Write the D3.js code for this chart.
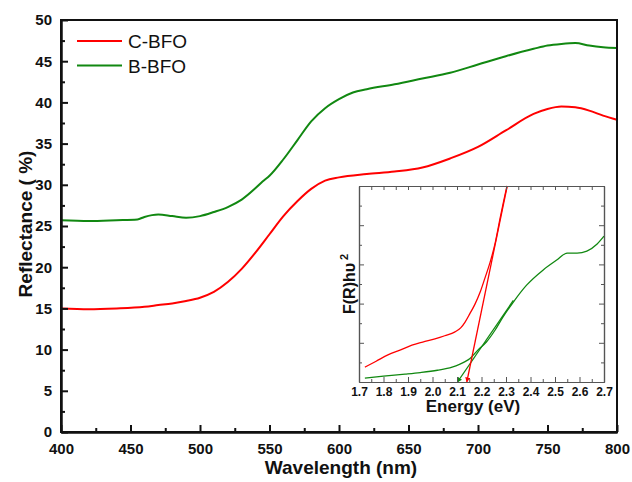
<!DOCTYPE html>
<html>
<head>
<meta charset="utf-8">
<script src="https://cdn.jsdelivr.net/npm/d3@7"></script>
<style>
  body { margin: 0; background: #fff; }
  svg { font-family: "Liberation Sans", Arial, sans-serif; }
  .tick text { font-weight: bold; fill: #111; }
  .label { font-weight: bold; fill: #111; }
</style>
</head>
<body>
<svg width="632" height="482"></svg>
<script>
// **** data ****
var wlC = [400, 420, 440, 460, 470, 480, 490, 500, 510, 520, 530, 540, 550, 560, 570, 580,
  590, 600, 620, 640, 660, 680, 700, 720, 740, 750, 760, 770, 780, 790, 800];
var reflC = [15.0, 14.9, 15.0, 15.2, 15.4, 15.6, 15.9, 16.3, 17.0, 18.2, 19.8, 21.8, 24.0, 26.2, 28.0, 29.5,
  30.5, 30.9, 31.3, 31.6, 32.1, 33.2, 34.6, 36.6, 38.6, 39.2, 39.5, 39.4, 39.0, 38.4, 37.9];

var wlB = [400, 420, 440, 455, 460, 470, 480, 490, 500, 510, 520, 530, 540, 545, 550, 560, 570, 580,
  590, 600, 610, 620, 640, 660, 680, 700, 720, 740, 750, 760, 770, 780, 790, 800];
var reflB = [25.7, 25.6, 25.7, 25.8, 26.1, 26.4, 26.2, 26.0, 26.2, 26.7, 27.3, 28.2, 29.6, 30.4, 31.1, 33.1, 35.4, 37.7,
  39.3, 40.4, 41.2, 41.6, 42.2, 42.9, 43.6, 44.6, 45.6, 46.5, 46.9, 47.1, 47.2, 46.9, 46.7, 46.6];

var series = ['C-BFO', 'B-BFO'];
var seriesColors = ['#ff0000', '#118811'];

var xTicks = [400, 450, 500, 550, 600, 650, 700, 750, 800];
var xMinor = [425, 475, 525, 575, 625, 675, 725, 775];
var yTicks = [0, 5, 10, 15, 20, 25, 30, 35, 40, 45, 50];
var yMinor = [2.5, 7.5, 12.5, 17.5, 22.5, 27.5, 32.5, 37.5, 42.5, 47.5];

// inset: F(R)hv^2 vs energy (arbitrary units)
var eC = [1.724, 1.77, 1.818, 1.87, 1.916, 1.96, 2.01, 2.05, 2.092, 2.115, 2.133, 2.153, 2.173, 2.195,
  2.214, 2.235, 2.256, 2.276, 2.29, 2.304];
var fC = [0.38, 0.53, 0.69, 0.82, 0.94, 1.02, 1.10, 1.18, 1.28, 1.38, 1.53, 1.75, 1.98, 2.3,
  2.65, 3.05, 3.55, 4.18, 4.6, 5.0];
var eB = [1.724, 1.8, 1.888, 1.95, 2.02, 2.08, 2.11, 2.133, 2.153, 2.186, 2.22, 2.255, 2.288, 2.33,
  2.384, 2.452, 2.507, 2.55, 2.59, 2.63, 2.672, 2.7];
var fB = [0.1, 0.15, 0.2, 0.24, 0.3, 0.38, 0.45, 0.52, 0.6, 0.82, 1.02, 1.32, 1.66, 2.04,
  2.47, 2.86, 3.11, 3.29, 3.29, 3.34, 3.52, 3.72];
// tangent (band gap) lines: [top point, bottom point]
var fitC = [[2.305, 5.0], [2.14, 0]];
var fitB = [[2.33, 2.08], [2.102, 0]];

var eTicks = [1.7, 1.8, 1.9, 2.0, 2.1, 2.2, 2.3, 2.4, 2.5, 2.6, 2.7];
var eMinor = [1.75, 1.85, 1.95, 2.05, 2.15, 2.25, 2.35, 2.45, 2.55, 2.65];
var fTicks = [1, 2, 3, 4];
var fMinor = [0.5, 1.5, 2.5, 3.5, 4.5];

// **** scales ****
var xScale = d3.scaleLinear().domain([400, 800]).range([61, 617]);
var yScale = d3.scaleLinear().domain([0, 50]).range([432, 20]);

var svg = d3.select('svg');

function toPoints(xs, ys) {
    return xs.map(function(x, i) { return [x, ys[i]]; });
}

var line = d3.line()
    .x(function(d) { return xScale(d[0]); })
    .y(function(d) { return yScale(d[1]); })
    .curve(d3.curveMonotoneX);

svg.append('path').datum(toPoints(wlB, reflB))
    .attr('d', line).attr('fill', 'none')
    .attr('stroke', seriesColors[1]).attr('stroke-width', 2);

svg.append('path').datum(toPoints(wlC, reflC))
    .attr('d', line).attr('fill', 'none')
    .attr('stroke', seriesColors[0]).attr('stroke-width', 2);

// **** main axes ****
svg.append('rect')
    .attr('x', 61).attr('y', 20).attr('width', 556).attr('height', 412)
    .attr('fill', 'none').attr('stroke', '#111').attr('stroke-width', 2);

var xAxis = svg.append('g').attr('transform', 'translate(0,432)')
    .call(d3.axisBottom(xScale).tickValues(xTicks).tickSizeInner(-7).tickSizeOuter(0).tickPadding(11));
var yAxis = svg.append('g').attr('transform', 'translate(61,0)')
    .call(d3.axisLeft(yScale).tickValues(yTicks).tickSizeInner(-7).tickSizeOuter(0).tickPadding(9));
svg.append('g').attr('transform', 'translate(0,432)')
    .call(d3.axisBottom(xScale).tickValues(xMinor).tickSizeInner(-4).tickSizeOuter(0).tickFormat(''));
svg.append('g').attr('transform', 'translate(61,0)')
    .call(d3.axisLeft(yScale).tickValues(yMinor).tickSizeInner(-4).tickSizeOuter(0).tickFormat(''));

svg.selectAll('.tick line').attr('stroke', '#111').attr('stroke-width', 2);
svg.selectAll('.domain').attr('stroke', '#111').attr('stroke-width', 2);
xAxis.selectAll('text').style('font-size', '15px');
yAxis.selectAll('text').style('font-size', '15px');

svg.append('text').attr('class', 'label')
    .attr('x', 341).attr('y', 474)
    .attr('text-anchor', 'middle').style('font-size', '19px')
    .text('Wavelength (nm)');

svg.append('text').attr('class', 'label')
    .attr('transform', 'translate(32,224) rotate(-90)')
    .attr('text-anchor', 'middle').style('font-size', '19px')
    .text('Reflectance ( %)');

// **** legend ****
var legend = svg.append('g');
[0, 1].forEach(function(i) {
    var ly = 41 + i * 24.5;
    legend.append('line')
        .attr('x1', 77).attr('x2', 122).attr('y1', ly).attr('y2', ly)
        .attr('stroke', seriesColors[i]).attr('stroke-width', 2);
    legend.append('text')
        .attr('x', 128).attr('y', ly + 7)
        .style('font-size', '19px').style('fill', '#111')
        .text(series[i]);
});

// **** inset ****
var eScale = d3.scaleLinear().domain([1.7, 2.7]).range([359, 604]);
var fScale = d3.scaleLinear().domain([0, 5]).range([382, 186]);

var inset = svg.append('g');
inset.append('rect')
    .attr('x', 359).attr('y', 186).attr('width', 245).attr('height', 196)
    .attr('fill', '#fff');

var defs = svg.append('defs');
seriesColors.forEach(function(c, i) {
    defs.append('marker')
        .attr('id', 'arrow' + i)
        .attr('viewBox', '0 0 10 10').attr('refX', 9).attr('refY', 5)
        .attr('markerWidth', 5).attr('markerHeight', 5)
        .attr('markerUnits', 'userSpaceOnUse')
        .attr('orient', 'auto')
        .append('path').attr('d', 'M0,0L10,5L0,10Z').attr('fill', c);
});

var insetLine = d3.line()
    .x(function(d) { return eScale(d[0]); })
    .y(function(d) { return fScale(d[1]); })
    .curve(d3.curveMonotoneX);
var straight = d3.line()
    .x(function(d) { return eScale(d[0]); })
    .y(function(d) { return fScale(d[1]); });

inset.append('path').datum(toPoints(eB, fB))
    .attr('d', insetLine).attr('fill', 'none')
    .attr('stroke', seriesColors[1]).attr('stroke-width', 1.3);
inset.append('path').datum(fitB)
    .attr('d', straight).attr('fill', 'none')
    .attr('stroke', seriesColors[1]).attr('stroke-width', 1.3)
    .attr('marker-end', 'url(#arrow1)');
inset.append('path').datum(toPoints(eC, fC))
    .attr('d', insetLine).attr('fill', 'none')
    .attr('stroke', seriesColors[0]).attr('stroke-width', 1.3);
inset.append('path').datum(fitC)
    .attr('d', straight).attr('fill', 'none')
    .attr('stroke', seriesColors[0]).attr('stroke-width', 1.3)
    .attr('marker-end', 'url(#arrow0)');

var eAxis = inset.append('g').attr('transform', 'translate(0,382)')
    .call(d3.axisBottom(eScale).tickValues(eTicks).tickSizeInner(-5).tickSizeOuter(0)
        .tickPadding(5).tickFormat(d3.format('.1f')));
eAxis.selectAll('text').style('font-size', '12px');
inset.append('g').attr('transform', 'translate(0,382)')
    .call(d3.axisBottom(eScale).tickValues(eMinor).tickSizeInner(-3).tickSizeOuter(0).tickFormat(''));
inset.append('g').attr('transform', 'translate(0,186)')
    .call(d3.axisTop(eScale).tickValues(eTicks.concat(eMinor)).tickSizeInner(-4).tickSizeOuter(0).tickFormat(''));
inset.append('g').attr('transform', 'translate(359,0)')
    .call(d3.axisLeft(fScale).tickValues(fTicks).tickSizeInner(-5).tickSizeOuter(0).tickFormat(''));
inset.append('g').attr('transform', 'translate(359,0)')
    .call(d3.axisLeft(fScale).tickValues(fMinor).tickSizeInner(-3).tickSizeOuter(0).tickFormat(''));
inset.append('g').attr('transform', 'translate(604,0)')
    .call(d3.axisRight(fScale).tickValues(fTicks).tickSizeInner(-5).tickSizeOuter(0).tickFormat(''));
inset.append('g').attr('transform', 'translate(604,0)')
    .call(d3.axisRight(fScale).tickValues(fMinor).tickSizeInner(-3).tickSizeOuter(0).tickFormat(''));

inset.selectAll('.tick line').attr('stroke', '#555').attr('stroke-width', 1);
inset.selectAll('.domain').attr('stroke', '#555').attr('stroke-width', 1.2);

inset.append('text').attr('class', 'label')
    .attr('x', 473).attr('y', 412)
    .attr('text-anchor', 'middle').style('font-size', '17px')
    .text('Energy (eV)');

var fLabel = inset.append('text').attr('class', 'label')
    .attr('transform', 'translate(355,314) rotate(-90)')
    .style('font-size', '16px');
fLabel.append('tspan').text('F(R)h\u03c5');
fLabel.append('tspan').attr('dx', 3).attr('dy', -7).style('font-size', '11px').text('2');
</script>
</body>
</html>
